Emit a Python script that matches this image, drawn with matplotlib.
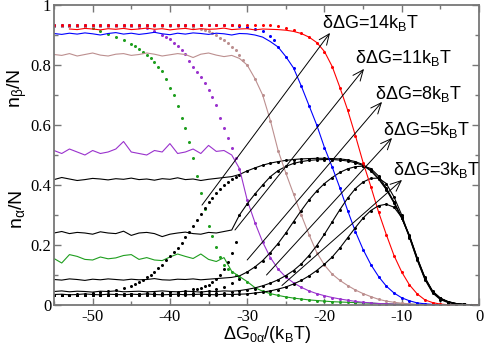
import numpy as np
import matplotlib
matplotlib.use("Agg")
import matplotlib.pyplot as plt
from matplotlib.ticker import MultipleLocator

plt.rcParams['font.family'] = 'serif'
plt.rcParams['font.serif'] = ['Liberation Serif', 'DejaVu Serif']
plt.rcParams['mathtext.fontset'] = 'custom'
plt.rcParams['mathtext.rm'] = 'Liberation Sans'
plt.rcParams['mathtext.it'] = 'Liberation Sans:italic'
plt.rcParams['axes.unicode_minus'] = False

# grid of the simulation curves
x = np.arange(-55, 1)

# ---- dG = 14 kT (green) ----
beta_sim_14 = [0.155, 0.14, 0.168, 0.162, 0.152, 0.15, 0.16, 0.154, 0.157, 0.165, 0.168, 0.152, 0.158, 0.15, 0.148, 0.16, 0.17, 0.162, 0.155,
               0.17, 0.152, 0.145, 0.158, 0.112,
               0.095, 0.078, 0.058, 0.046, 0.038, 0.032, 0.027, 0.023, 0.02, 0.017, 0.015, 0.013, 0.011, 0.01, 0.009, 0.008,
               0.007, 0.006, 0.005, 0.004, 0.003, 0.003, 0.002, 0.002, 0.001, 0.001, 0.001, 0, 0, 0, 0, 0]
beta_th_x_14 = [-55, -54, -53, -52, -51, -50, -49, -48, -47, -46, -45, -44.5, -44, -43.5, -43, -42.5, -42, -41.5, -41, -40.5, -40,
                -39.5, -39, -38.5, -38, -37.5, -37, -36.5, -36, -35.5, -35, -34.5, -34, -33.5, -33, -32.5, -32, -31.5]
beta_th_y_14 = [0.93, 0.93, 0.93, 0.93, 0.928, 0.922, 0.915, 0.905, 0.895, 0.885, 0.87, 0.862, 0.853, 0.843, 0.835, 0.822, 0.81,
                0.795, 0.78, 0.755, 0.725, 0.70, 0.665, 0.625, 0.59, 0.545, 0.49, 0.43, 0.375, 0.32, 0.265, 0.23, 0.195, 0.16,
                0.135, 0.12, 0.11, 0.10]
alpha_sim_14 = [0.418, 0.425, 0.42, 0.415, 0.418, 0.422, 0.42, 0.417, 0.421, 0.419, 0.423, 0.418, 0.42, 0.416, 0.421, 0.419, 0.424,
                0.418, 0.42, 0.415, 0.419, 0.422, 0.425, 0.428,
                0.435, 0.447, 0.457, 0.466, 0.473, 0.478, 0.482, 0.485, 0.487, 0.488, 0.489, 0.489, 0.488, 0.487, 0.484, 0.478,
                0.468, 0.45, 0.422, 0.387, 0.342, 0.292, 0.232, 0.158, 0.092, 0.046, 0.023, 0.011, 0.005, 0.002, 0.001, 0]
alpha_th_x_14 = beta_th_x_14
alpha_th_y_14 = [0.034, 0.035, 0.035, 0.036, 0.037, 0.039, 0.042, 0.046, 0.051, 0.057, 0.065, 0.071, 0.078, 0.085, 0.093, 0.101,
                 0.11, 0.122, 0.135, 0.149, 0.163, 0.177, 0.19, 0.208, 0.227, 0.245, 0.265, 0.285, 0.305, 0.325, 0.343, 0.358,
                 0.373, 0.388, 0.40, 0.41, 0.42, 0.428]

# ---- dG = 11 kT (purple) ----
beta_sim_11 = [0.515, 0.505, 0.52, 0.51, 0.5, 0.515, 0.505, 0.51, 0.52, 0.545, 0.51, 0.505, 0.5, 0.515, 0.51, 0.538, 0.505, 0.51,
               0.52, 0.505, 0.532, 0.512, 0.515, 0.5,
               0.455, 0.35, 0.275, 0.21, 0.158, 0.12, 0.093, 0.074, 0.059, 0.047, 0.038, 0.031, 0.025, 0.02, 0.016, 0.012,
               0.009, 0.007, 0.005, 0.004, 0.003, 0.002, 0.002, 0.001, 0.001, 0, 0, 0, 0, 0, 0, 0]
beta_th_x_11 = [-55, -54, -53, -52, -51, -50, -49, -48, -47, -46, -45, -44, -43, -42, -41, -40.5, -40, -39.5, -39, -38.5, -38,
                -37.5, -37, -36.5, -36, -35.5, -35, -34.5, -34, -33.5, -33, -32.5, -32, -31.5]
beta_th_y_11 = [0.93, 0.93, 0.93, 0.93, 0.93, 0.93, 0.93, 0.93, 0.93, 0.93, 0.93, 0.928, 0.922, 0.912, 0.90, 0.894, 0.888, 0.875,
                0.862, 0.85, 0.838, 0.815, 0.795, 0.778, 0.76, 0.74, 0.718, 0.694, 0.666, 0.625, 0.59, 0.555, 0.525, 0.49]
alpha_sim_11 = [0.24, 0.245, 0.238, 0.242, 0.24, 0.236, 0.244, 0.24, 0.238, 0.246, 0.232, 0.24, 0.242, 0.238, 0.228, 0.236, 0.24,
                0.243, 0.238, 0.236, 0.242, 0.24, 0.245, 0.25,
                0.30, 0.337, 0.37, 0.40, 0.428, 0.448, 0.462, 0.472, 0.478, 0.482, 0.484, 0.485, 0.485, 0.483, 0.48, 0.474,
                0.465, 0.447, 0.42, 0.385, 0.34, 0.29, 0.23, 0.156, 0.09, 0.045, 0.022, 0.011, 0.005, 0.002, 0.001, 0]
alpha_th_x_11 = [-55, -54, -53, -52, -51, -50, -49, -48, -47, -46, -45, -44, -43, -42, -41, -40, -39, -38, -37,
                 -36.5, -36, -35.5, -35, -34.5, -34, -33.5, -33, -32.5, -32, -31.5]
alpha_th_y_11 = [0.034, 0.035, 0.035, 0.035, 0.035, 0.036, 0.036, 0.036, 0.037, 0.037, 0.038, 0.038, 0.039, 0.04, 0.041, 0.043,
                 0.045, 0.048, 0.052, 0.055, 0.058, 0.062, 0.068, 0.076, 0.086, 0.1, 0.12, 0.145, 0.175, 0.21]

# ---- dG = 8 kT (rosy brown) ----
beta_sim_8 = [0.835, 0.832, 0.838, 0.83, 0.835, 0.84, 0.833, 0.83, 0.836, 0.838, 0.832, 0.835, 0.84, 0.836, 0.83, 0.834, 0.838,
              0.835, 0.825, 0.836, 0.84, 0.833, 0.828, 0.832,
              0.822, 0.80, 0.755, 0.70, 0.615, 0.515, 0.44, 0.37, 0.30, 0.235, 0.175, 0.133, 0.103, 0.082, 0.065, 0.05,
              0.038, 0.028, 0.019, 0.013, 0.009, 0.006, 0.004, 0.002, 0.001, 0.001, 0, 0, 0, 0, 0, 0]
beta_th_x_8 = [-55, -54, -53, -52, -51, -50, -49, -48, -47, -46, -45, -44, -43, -42, -41, -40, -39, -38, -37, -36,
               -35.5, -35, -34.5, -34, -33.5, -33, -32.5, -32, -31.5, -31, -30.5]
beta_th_y_8 = [0.93, 0.93, 0.93, 0.93, 0.93, 0.93, 0.93, 0.93, 0.93, 0.93, 0.93, 0.93, 0.93, 0.93, 0.93, 0.93, 0.93, 0.929, 0.926,
               0.921, 0.917, 0.912, 0.906, 0.899, 0.891, 0.882, 0.872, 0.861, 0.849, 0.835, 0.818]
alpha_sim_8 = [0.085, 0.083, 0.087, 0.085, 0.082, 0.086, 0.084, 0.087, 0.085, 0.083, 0.086, 0.084, 0.085, 0.088, 0.084, 0.083,
               0.086, 0.085, 0.087, 0.084, 0.086, 0.088, 0.09, 0.092,
               0.097, 0.11, 0.127, 0.148, 0.175, 0.205, 0.24, 0.278, 0.315, 0.35, 0.38, 0.405, 0.425, 0.442, 0.454, 0.461,
               0.463, 0.455, 0.43, 0.39, 0.344, 0.29, 0.23, 0.155, 0.09, 0.045, 0.022, 0.011, 0.005, 0.002, 0.001, 0]
alpha_th_x_8 = list(range(-55, -30))
alpha_th_y_8 = [0.034, 0.035, 0.035, 0.035, 0.035, 0.035, 0.035, 0.035, 0.036, 0.036, 0.036, 0.036, 0.037, 0.037, 0.037, 0.038,
                0.038, 0.039, 0.04, 0.042, 0.046, 0.052, 0.06, 0.072, 0.086]

# ---- dG = 5 kT (blue) ----
beta_sim_5 = [0.905, 0.902, 0.906, 0.903, 0.907, 0.904, 0.9, 0.905, 0.908, 0.903, 0.906, 0.902, 0.905, 0.909, 0.904, 0.901,
              0.906, 0.903, 0.907, 0.905, 0.902, 0.906, 0.904, 0.9, 0.905,
              0.904, 0.90, 0.893, 0.878, 0.86, 0.828, 0.79, 0.73, 0.665, 0.60, 0.525, 0.46, 0.39, 0.315, 0.245, 0.185,
              0.135, 0.095, 0.063, 0.04, 0.024, 0.014, 0.007, 0.004, 0.002, 0.001, 0, 0, 0, 0, 0]
beta_th_x_5 = list(range(-55, -26)) + [-26.5]
beta_th_y_5 = [0.932] * 24 + [0.93, 0.927, 0.921, 0.912, 0.898, 0.882]
alpha_sim_5 = [0.045, 0.047, 0.044, 0.046, 0.045, 0.043, 0.046, 0.045, 0.047, 0.044, 0.045, 0.046, 0.044, 0.045, 0.047, 0.045,
               0.044, 0.046, 0.045, 0.043, 0.046, 0.045, 0.047, 0.046, 0.048,
               0.052, 0.057, 0.064, 0.073, 0.084, 0.098, 0.115, 0.137, 0.165, 0.198, 0.236, 0.277, 0.318, 0.356, 0.388,
               0.41, 0.422, 0.423, 0.405, 0.36, 0.30, 0.227, 0.152, 0.087, 0.043, 0.02, 0.01, 0.004, 0.002, 0.001, 0]
alpha_th_x_5 = list(range(-55, -28))
alpha_th_y_5 = [0.033, 0.034, 0.034, 0.034, 0.034, 0.034, 0.034, 0.034, 0.034, 0.035, 0.035, 0.035, 0.035, 0.035, 0.035, 0.035,
                0.036, 0.036, 0.036, 0.037, 0.038, 0.039, 0.041, 0.043, 0.046, 0.05, 0.055]

# ---- dG = 3 kT (red) ----
beta_sim_3 = [np.nan, np.nan,
              0.92, 0.918, 0.922, 0.92, 0.917, 0.921, 0.919, 0.922, 0.918, 0.92, 0.923, 0.919, 0.921, 0.917, 0.92, 0.922,
              0.918, 0.921, 0.919, 0.92, 0.923, 0.918, 0.92, 0.921, 0.917, 0.92, 0.919, 0.918,
              0.916, 0.912, 0.905, 0.893, 0.875, 0.845, 0.795, 0.725, 0.65, 0.565, 0.475, 0.395, 0.31, 0.235, 0.165, 0.11,
              0.067, 0.037, 0.017, 0.008, 0.003, 0.001, 0, 0, 0, 0]
beta_th_x_3 = list(range(-55, -22))
beta_th_y_3 = [0.935] * 27 + [0.934, 0.932, 0.929, 0.924, 0.917, 0.906]
alpha_sim_3 = [0.035, 0.036, 0.034, 0.035, 0.037, 0.035, 0.034, 0.036, 0.035, 0.034, 0.036, 0.035, 0.037, 0.035, 0.034, 0.035,
               0.036, 0.034, 0.035, 0.036, 0.035, 0.034, 0.036, 0.035, 0.036,
               0.037, 0.04, 0.043, 0.047, 0.053, 0.06, 0.07, 0.082, 0.097, 0.115, 0.136, 0.16, 0.19, 0.224, 0.258, 0.29,
               0.315, 0.331, 0.336, 0.326, 0.292, 0.225, 0.15, 0.085, 0.04, 0.018, 0.008, 0.003, 0.001, 0, 0]
alpha_th_x_3 = list(range(-55, -25))
alpha_th_y_3 = [0.032, 0.032, 0.033, 0.033, 0.033, 0.033, 0.033, 0.033, 0.033, 0.033, 0.033, 0.033, 0.033, 0.033, 0.033, 0.034,
                0.034, 0.034, 0.034, 0.034, 0.034, 0.034, 0.035, 0.035, 0.036, 0.037, 0.039, 0.042, 0.046, 0.051]

# colour, beta sim, beta theory x/y, join index, alpha sim, alpha theory x/y, join index
sets = [
    ('#1e9e1e', beta_sim_14, beta_th_x_14, beta_th_y_14, 24, alpha_sim_14, alpha_th_x_14, alpha_th_y_14, 24),
    ('#9a32cd', beta_sim_11, beta_th_x_11, beta_th_y_11, 24, alpha_sim_11, alpha_th_x_11, alpha_th_y_11, 24),
    ('#bc8f8f', beta_sim_8, beta_th_x_8, beta_th_y_8, 25, alpha_sim_8, alpha_th_x_8, alpha_th_y_8, 25),
    ('#0000ff', beta_sim_5, beta_th_x_5, beta_th_y_5, 29, alpha_sim_5, alpha_th_x_5, alpha_th_y_5, 27),
    ('#ff0000', beta_sim_3, beta_th_x_3, beta_th_y_3, 33, alpha_sim_3, alpha_th_x_3, alpha_th_y_3, 30),
]

# arrows (start, tip) and labels
arrow_labels = ['14', '11', '8', '5', '3']
arrow_start = [(-35.85, 0.333), (-31.58, 0.25), (-30.0, 0.15), (-27.5, 0.10), (-25.5, 0.065)]
arrow_tip = [(-19.28, 0.907), (-14.88, 0.787), (-12.55, 0.677), (-11.25, 0.557), (-9.96, 0.417)]
label_pos = [(-20.3, 0.923), (-16.05, 0.807), (-13.46, 0.687), (-12.4, 0.567), (-11.13, 0.433)]

fig = plt.figure(figsize=(4.84, 3.47), dpi=100)
ax = fig.add_axes([54 / 484, 42 / 347, 425 / 484, 300 / 347])

for c, bs, bx, by, kb, asim, axx, ay, ka in sets:
    bs = np.array(bs, dtype=float)
    asim = np.array(asim, dtype=float)
    ax.plot(x, bs, color=c, lw=0.8)
    ax.plot(np.r_[bx, x[kb:]], np.r_[by, bs[kb:]], 'o', color=c, ms=2.2, mew=0)
    ax.plot(x, asim, color='black', lw=0.8)
    ax.plot(np.r_[axx, x[ka:]], np.r_[ay, asim[ka:]], 'o', color='black', ms=2.2, mew=0)

for lab, s, t, p in zip(arrow_labels, arrow_start, arrow_tip, label_pos):
    ax.annotate('', xy=t, xytext=s,
                arrowprops=dict(arrowstyle='->,head_length=0.7,head_width=0.3', lw=0.7, color='black',
                                mutation_scale=11, shrinkA=0, shrinkB=0))
    ax.text(p[0], p[1], 'δΔG=' + lab + 'k$_\\mathrm{B}$T', family='Liberation Sans', size=13, va='baseline')

ax.set_xlim(-55, 0)
ax.set_ylim(0, 1)
ax.set_xticks(range(-50, 1, 10))
ax.set_xticklabels(['-50', '-40', '-30', '-20', '-10', '0'], fontfamily='Liberation Serif')
ax.set_yticks([0, 0.2, 0.4, 0.6, 0.8, 1])
ax.set_yticklabels(['0', '0.2', '0.4', '0.6', '0.8', '1'], fontfamily='Liberation Serif')
ax.xaxis.set_minor_locator(MultipleLocator(5))
ax.yaxis.set_minor_locator(MultipleLocator(0.1))
ax.tick_params(which='both', direction='in', top=True, right=True, color='#777777', width=1.0)
ax.tick_params(which='major', length=5, labelsize=12)
ax.tick_params(which='minor', length=3)
ax.tick_params(axis='x', pad=3)
ax.tick_params(axis='y', pad=2)
for sp in ax.spines.values():
    sp.set_color('#777777')
    sp.set_linewidth(1.3)

fig.text(266.5 / 484, 0.022, 'ΔG$_{\\mathrm{0α}}$/(k$_\\mathrm{B}$T)', family='Liberation Sans', size=13,
         ha='center', va='baseline')
fig.text(0.036, 0.746, 'n$_\\mathrm{β}$/N', family='Liberation Sans', size=14, rotation=90, ha='center', va='center')
fig.text(0.036, 0.398, 'n$_\\mathrm{α}$/N', family='Liberation Sans', size=14, rotation=90, ha='center', va='center')

fig.savefig('out.png', dpi=100)
